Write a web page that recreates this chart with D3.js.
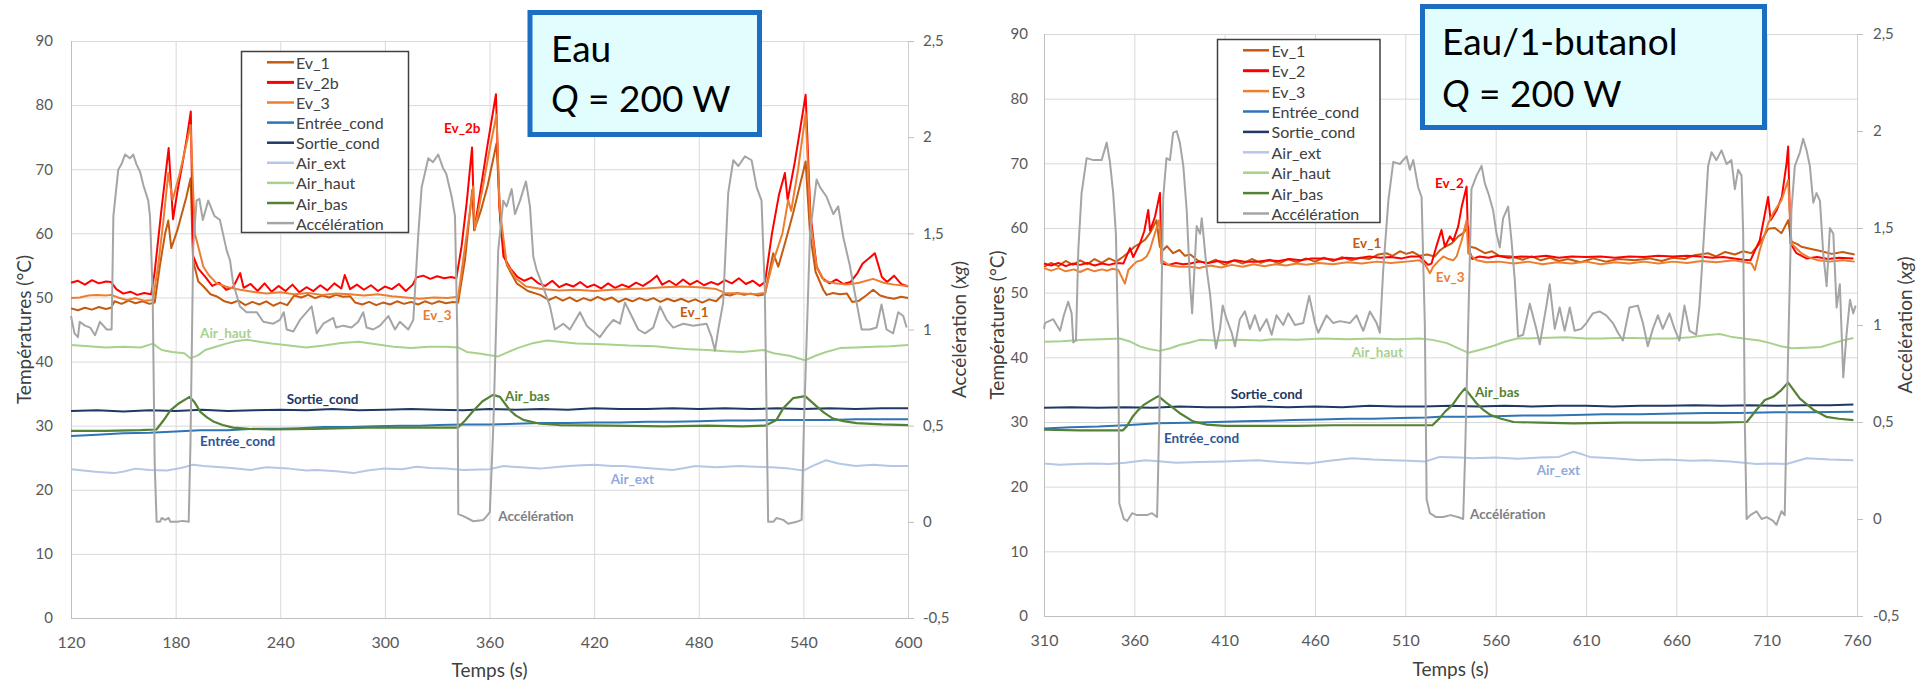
<!DOCTYPE html>
<html><head><meta charset="utf-8">
<script src="https://cdn.jsdelivr.net/npm/d3@7"></script>
<style>
body{margin:0;background:#fff}
svg{display:block}
text{font-family:Lato,'Open Sans','Noto Sans',sans-serif}
</style>
</head><body>
<svg id="chart" width="1923" height="683"></svg>
<script>
// ---------------- DATA ----------------
const namesLeft  = ["Ev_1","Ev_2b","Ev_3","Entrée_cond","Sortie_cond","Air_ext","Air_haut","Air_bas","Accélération"];
const namesRight = ["Ev_1","Ev_2","Ev_3","Entrée_cond","Sortie_cond","Air_ext","Air_haut","Air_bas","Accélération"];
const seriesColors = ["#C55A11","#FF0000","#ED7D31","#2E75B6","#203864","#B4C7E7","#A9D18E","#548235","#A5A5A5"];
const labelColors  = ["#C55A11","#FF0000","#ED7D31","#2F5597","#203864","#8FAADC","#A9D18E","#548235","#7F7F7F"];
const tempTicks = [0,10,20,30,40,50,60,70,80,90];
const accTicks  = [-0.5,0,0.5,1,1.5,2,2.5];
const xTicksLeft  = [120,180,240,300,360,420,480,540,600];
const xTicksRight = [310,360,410,460,510,560,610,660,710,760];
const boxLeft  = ["Eau","200 W"];
const boxRight = ["Eau/1-butanol","200 W"];

// Left chart (Eau) — [time s, °C] ; acceleration in xg
const L_ev1 = [[120,48.3],[124,48.0],[128,48.4],[132,48.1],[136,48.5],[140,48.2],[143,48.4],[145,49.4],[149,49.0],[153,49.5],[157,49.1],[161,49.4],[165,49.0],[168,49.2],[171,55],[174,60],[175.8,62],[177.5,57.7],[181,60.5],[184,63.5],[186,65.5],[188.6,68.6],[190,55.8],[193,52.5],[196,51.7],[200,50.5],[204,50.1],[208,49.4],[212,49.1],[216,49.5],[220,48.8],[224,49.3],[228,48.9],[232,49.4],[236,48.7],[240,49.2],[244,48.8],[248,50.3],[252,50.0],[256,50.4],[260,49.9],[264,50.3],[268,50.0],[272,50.4],[276,50.1],[280,50.2],[283,49.2],[287,48.9],[291,49.3],[295,48.8],[299,49.2],[303,48.9],[307,49.4],[311,49.0],[315,49.3],[319,48.9],[323,49.4],[327,49.0],[331,49.4],[335,49.1],[339,49.3],[342,49.2],[346,56],[350.1,66.8],[351.2,60.5],[355,63.5],[359,67.5],[364,74.0],[366.7,60],[370,55],[375.6,52.2],[382,51.0],[389,50.4],[394,49.6],[398,50.1],[402,49.5],[406,50.0],[410,49.4],[414,49.9],[418,49.5],[422,50.1],[426,49.6],[430,50.0],[434,49.3],[438,49.8],[442,49.4],[446,49.9],[450,49.5],[454,49.9],[458,49.3],[462,49.8],[466,49.4],[470,49.8],[474,49.3],[478,49.7],[482,49.2],[486,49.7],[490,49.4],[494,50.5],[498,50.3],[502,50.7],[506,50.4],[510,50.6],[514,50.3],[518,50.5],[520.5,54],[522.7,56.9],[525.6,54.8],[530,59],[534,63],[538,67.5],[541.3,71.2],[543.8,60],[547,54],[551.4,51.2],[553.3,50.4],[557,50.7],[561,50.5],[565,50.6],[568,49.3],[572,49.5],[576,50.3],[580,51.2],[584,50.3],[588,50.0],[592,49.8],[596,50.1],[600,49.9]];
const L_ev2 = [[120,52.3],[124,52.6],[128,52.0],[132,52.7],[136,52.2],[140,52.5],[143,52.4],[146,51.3],[150,50.6],[154,50.9],[158,50.4],[162,50.7],[166,50.5],[168,54],[172,64],[176,73.3],[178.5,62.2],[181,66.5],[184,71],[186.5,75],[188.7,79],[190,56.5],[193,54.5],[197,53.2],[201,51.8],[205,52.3],[209,51.2],[213,51.6],[217,53.8],[219,51.5],[223,52.1],[227,51.0],[231,52.2],[235,50.9],[239,51.8],[243,51.0],[247,52.0],[251,50.8],[255,51.6],[259,51.0],[263,51.9],[267,51.1],[271,52.2],[275,51.4],[277,53.5],[280,51.3],[284,52.0],[288,51.2],[292,51.9],[296,51.0],[300,51.7],[304,51.3],[308,52.1],[312,51.0],[316,52.0],[318,53.1],[322,53.4],[326,52.9],[330,53.3],[334,53.0],[338,53.2],[341,53.0],[344,58],[347,65],[350,73.4],[351.3,60.5],[355,67],[359,74],[363.7,81.7],[365.6,64.2],[368,56.4],[372,54.5],[376,53.2],[380,52.6],[384,53.1],[388,52.2],[392,51.8],[396,52.6],[400,51.6],[404,52.1],[408,51.7],[412,52.4],[416,51.6],[420,52.0],[424,51.4],[428,52.2],[432,51.5],[436,52.0],[440,51.6],[444,52.3],[448,51.8],[452,52.5],[456,53.4],[459,52.0],[463,52.6],[467,51.9],[471,52.8],[475,52.0],[479,52.6],[483,51.9],[487,52.4],[491,52.0],[495,52.7],[499,52.2],[503,53.0],[507,52.1],[511,52.6],[515,51.8],[518,52.4],[522,60],[526,66],[529.4,69.4],[531,65.2],[535,71],[538,76],[541.3,81.6],[544,63.1],[547.6,54.8],[551,53.0],[555,52.2],[559,52.8],[563,52.1],[567,52.4],[571,53.8],[574,55.3],[578,56.2],[581,56.9],[585,53.2],[588,52.4],[592,53.4],[596,52.1],[600,51.7]];
const L_ev3 = [[120,49.9],[125,50.0],[130,50.3],[135,50.4],[140,50.3],[143,50.4],[147,50.0],[152,49.6],[157,49.9],[162,49.5],[167,49.6],[170,55],[173,62],[175.8,69.4],[178.3,65.2],[182,69],[185,72.5],[188.6,76.9],[191,60],[195.9,54.8],[199,53.5],[203.5,52.2],[210,51.6],[217,51.2],[224,50.9],[232,50.6],[240,50.8],[248,50.5],[256,50.7],[264,50.4],[272,50.6],[280,50.5],[288,50.3],[296,50.5],[304,50.2],[312,50.0],[320,49.8],[328,50.0],[336,49.9],[342,50.1],[346,58],[350.7,67.3],[351.5,60.5],[356,67],[360,73],[364,78.5],[365.8,64],[369.8,55.3],[375,53],[381,51.7],[390,51.3],[400,51.1],[410,51.2],[420,51.0],[430,51.2],[440,51.3],[450,51.4],[460,51.6],[470,51.7],[480,51.6],[490,51.3],[495,50.7],[505,50.6],[512,50.5],[518,50.7],[522,55],[528,60],[531.3,65.2],[533,63.5],[537,70],[541.3,78.7],[544,62],[547.6,54.8],[552,52.6],[558,52.2],[565,52.0],[572,52.3],[580,52.9],[586,52.3],[592,52.0],[600,51.8]];
const L_entree = [[120,28.4],[135,28.6],[150,28.8],[165,28.9],[180,29.1],[194,29.3],[210,29.3],[225,29.5],[240,29.5],[251,29.6],[265,29.8],[280,29.8],[295,29.9],[309,30.0],[320,30.0],[331,30.1],[345,30.2],[360,30.2],[375,30.3],[389,30.4],[405,30.4],[420,30.5],[435,30.5],[450,30.6],[465,30.6],[480,30.7],[495,30.8],[510,30.8],[523,30.9],[540,30.9],[555,30.9],[570,31.0],[585,31.0],[600,31.0]];
const L_sortie = [[120,32.3],[135,32.4],[150,32.2],[165,32.4],[180,32.3],[195,32.5],[210,32.3],[225,32.4],[240,32.5],[255,32.4],[270,32.6],[285,32.4],[300,32.5],[315,32.6],[330,32.5],[345,32.4],[360,32.6],[375,32.5],[390,32.6],[405,32.5],[420,32.7],[435,32.6],[450,32.6],[465,32.7],[480,32.6],[495,32.7],[510,32.6],[525,32.7],[540,32.6],[555,32.7],[570,32.6],[585,32.7],[600,32.7]];
const L_ext = [[120,23.2],[127,23.0],[134,22.8],[140,22.7],[145,22.6],[151,22.9],[157,23.3],[165,23.1],[175,23.0],[183,23.4],[190,23.9],[196,23.7],[202,23.6],[212,23.4],[223,23.1],[232,23.5],[245,23.3],[255,23.0],[261,23.1],[272,22.9],[282,22.6],[290,23.0],[299,23.3],[310,23.2],[318,23.6],[326,23.4],[335,23.3],[345,23.1],[360,23.2],[368,23.7],[378,23.5],[389,23.3],[400,23.6],[410,23.8],[420,23.9],[430,23.7],[437,23.7],[450,23.4],[465,23.1],[472,23.4],[478,23.7],[490,23.5],[503,23.7],[512,23.6],[522,23.5],[532,23.3],[540,23.0],[546,23.8],[553,24.6],[560,24.1],[570,23.7],[580,23.9],[590,23.7],[600,23.7]];
const L_haut = [[120,42.6],[130,42.4],[140,42.2],[150,42.3],[160,42.2],[167,42.8],[172,41.8],[178,41.5],[185,41.3],[188.5,40.5],[193,41.0],[197,41.8],[203,42.3],[209,42.8],[215,43.2],[221,43.4],[228,43.1],[235,42.8],[245,42.5],[255,42.2],[265,42.5],[275,42.9],[285,43.1],[295,42.7],[305,42.3],[315,42.1],[325,42.3],[335,42.3],[342,42.2],[347,41.5],[355,41.2],[360,41.0],[365,40.8],[370,41.4],[376,42.1],[384,42.8],[393,43.3],[400,43.1],[410,42.8],[425,42.7],[440,42.5],[455,42.4],[465,42.1],[475,41.9],[485,41.8],[495,41.6],[505,41.5],[517,41.8],[523,41.3],[532,40.9],[541,40.2],[547,40.9],[553,41.5],[561,42.1],[570,42.2],[580,42.3],[590,42.4],[600,42.6]];
const L_bas = [[120,29.2],[140,29.2],[160,29.3],[169,29.4],[173,30.8],[177,32.4],[182,33.5],[188,34.5],[191,33.6],[194,32.2],[198,31.3],[202,30.6],[207,30.1],[213,29.7],[222,29.5],[235,29.4],[260,29.5],[290,29.7],[320,29.7],[342,29.7],[346,30.8],[351,32.4],[356,33.8],[362,34.8],[366,34.5],[371.7,32.4],[375,31.6],[379.4,30.9],[389,30.3],[400,30.1],[430,30.0],[460,29.9],[485,30.0],[505,29.9],[518,30.0],[524.6,30.9],[528.4,32.7],[534.2,34.3],[541,34.6],[547.6,33.0],[552,32.0],[557,31.1],[563,30.7],[570.5,30.4],[585,30.2],[600,30.1]];
const L_acc = [[120,1.07],[122,0.98],[124,0.96],[125,1.04],[128,1.02],[131,1.01],[133.8,0.97],[136.6,1.04],[140.5,1.0],[143.3,1.0],[144.3,1.59],[147.1,1.83],[149,1.86],[151,1.91],[153.8,1.89],[155.7,1.91],[157.5,1.86],[159.6,1.82],[161.5,1.75],[164.3,1.67],[165.3,1.59],[166.8,1.2],[168,0.3],[169.1,0.0],[171,0.0],[172,0.02],[174,0.01],[176,0.02],[177,0.0],[181,0.0],[184,0.005],[187.5,0.0],[188.5,0.4],[190.1,1.43],[192,1.67],[193.6,1.68],[195.6,1.57],[198.7,1.67],[202.3,1.59],[205.4,1.57],[209.3,1.41],[211.2,1.36],[213,1.24],[216.9,1.12],[220.7,1.09],[226.5,1.09],[230.3,1.04],[236,1.03],[239.8,1.05],[242,1.09],[243.7,1.0],[247.5,0.99],[251.3,1.05],[258,1.12],[260.9,0.98],[264.7,1.03],[270.4,1.06],[272,1.01],[276.1,1.02],[280.9,1.01],[284.7,1.04],[287.6,1.09],[289.5,1.01],[293.3,1.0],[297.2,1.02],[302,1.07],[305.8,1.0],[308.6,1.04],[313.4,1.0],[316.3,1.05],[319.2,1.5],[321.1,1.74],[324.9,1.89],[327.6,1.87],[330.6,1.91],[333.3,1.84],[335.2,1.81],[338.3,1.69],[340.2,1.59],[341.5,1.0],[342.1,0.04],[345,0.03],[350.7,0.003],[356.5,0.01],[358.4,0.03],[360.2,0.05],[362.2,0.5],[365,1.41],[367.9,1.67],[369.8,1.64],[372.7,1.73],[374.6,1.6],[377.5,1.67],[380.9,1.77],[383.2,1.64],[385.1,1.38],[387,1.31],[390.8,1.22],[394.7,1.12],[397.5,1.0],[402.3,1.03],[406.1,1.0],[411.9,1.09],[415.7,1.02],[423.3,0.96],[427.2,1.01],[431,1.05],[434.8,1.03],[437.7,1.14],[441.5,1.07],[445.3,1.0],[449.2,0.98],[453.9,1.01],[457.8,1.12],[461.6,1.05],[465.4,1.01],[471.1,1.03],[476.9,1.02],[484.5,1.03],[487.4,0.96],[489.3,0.89],[491.2,1.0],[494,1.14],[496.9,1.71],[499.8,1.88],[502.7,1.85],[506.5,1.9],[510.3,1.88],[513.2,1.74],[516,1.67],[517.9,1.2],[519.8,0.0],[522.7,0.0],[524.6,0.02],[528.4,0.01],[531.3,-0.01],[536.1,0.0],[539,0.01],[540.3,0.5],[543.8,1.5],[547.6,1.78],[549.5,1.74],[553.3,1.69],[557.2,1.6],[560,1.64],[562.9,1.48],[566.7,1.33],[570.5,1.14],[573.4,1.0],[578.2,1.0],[582,1.01],[584.8,1.13],[587.7,1.0],[591.5,0.98],[594.4,1.09],[597.3,1.07],[599.2,1.01]];

// Right chart (Eau/1-butanol)
const R_ev1 = [[310,54.0],[314,54.6],[318,54.1],[322,54.9],[326,54.3],[330,55.0],[334,54.4],[338,55.2],[342,54.6],[346,55.3],[350,54.8],[354,55.6],[357,56.3],[360,57.1],[363,57.6],[366,58.2],[368.6,59.2],[372.3,61.2],[374.1,57.1],[376,56.6],[378,57.2],[381.5,56.1],[385,56.6],[388,55.7],[391,55.9],[395,55.0],[400,54.5],[405,55.1],[410,54.3],[415,55.0],[420,54.5],[425,55.2],[430,54.6],[435,55.1],[440,54.5],[445,55.2],[450,54.7],[455,55.3],[460,54.8],[465,55.4],[470,54.9],[475,55.5],[480,55.0],[485,55.4],[490,55.2],[495,55.9],[499.5,56.1],[503,55.7],[507,56.4],[510.6,56.0],[514,56.3],[518,55.7],[522,55.9],[526.3,55.6],[529,56.5],[531.9,57.1],[535.6,57.6],[539.3,58.7],[542,59.2],[544.8,60.2],[545.7,57.1],[549,56.9],[554,56.1],[558,56.4],[562,55.7],[568.8,55.6],[575,55.1],[580,55.6],[585,55.0],[590,55.4],[595,54.9],[600,55.2],[607,54.7],[614,55.3],[621,54.8],[628,55.2],[637,55.0],[645,55.3],[652,54.9],[658,55.4],[664.7,55.2],[670,55.8],[677.6,56.1],[682,55.6],[687,56.3],[692.4,55.9],[697,56.4],[701.6,56.1],[706.2,57.6],[710.8,59.9],[714.5,60.0],[718.2,59.2],[721.9,61.2],[723.7,57.9],[727,57.5],[729.2,57.1],[734,56.8],[740.3,56.4],[746,56.0],[752,56.3],[758.7,55.9]];
const R_ev2 = [[310,54.5],[314,54.2],[318,54.6],[322,54.1],[326,54.5],[330,54.3],[334,54.6],[338,54.2],[342,54.5],[346,54.3],[350,54.6],[353.9,54.5],[357.6,56.9],[359.4,55.5],[363.1,57.6],[365.5,59.5],[367.7,62.8],[368.7,59.6],[371.4,61.7],[374.2,65.4],[375.1,54.5],[379,54.3],[383,54.6],[387,54.4],[391,54.5],[396,54.8],[401,54.6],[406,54.9],[411,54.7],[416,55.0],[421,54.8],[428,54.8],[434,55.0],[440,54.9],[446,55.2],[452,55.0],[458,55.3],[465,55.3],[471,55.1],[477,55.4],[483,55.3],[490,55.6],[496,55.4],[502,55.5],[508,55.3],[513,55.6],[518,55.6],[522.6,54.3],[524.5,54.5],[527,57],[530,59.7],[531.9,57.1],[534.7,58.7],[536.5,58.0],[539.3,60.3],[541.2,63.3],[543.9,66.4],[544.8,57.1],[547,55.2],[551,55.6],[556,55.4],[561,55.7],[567,55.4],[574,55.6],[581,55.5],[588,55.7],[595,55.4],[602,55.6],[610,55.5],[618,55.6],[626,55.4],[634,55.6],[642,55.5],[650,55.7],[658,55.6],[666,55.7],[673,55.6],[680,55.4],[686,55.5],[692,55.3],[697,55.1],[701,55.0],[703.5,56.5],[706.2,58.1],[710.8,64.8],[712.2,61.2],[715.6,62.8],[718.4,64.8],[721,70.0],[721.9,72.6],[723.2,57.6],[726.5,56.1],[732,55.3],[738,55.5],[744,55.2],[750,55.4],[758,55.3]];
const R_ev3 = [[310,53.8],[314,53.4],[318,53.8],[322,53.3],[326.6,53.6],[330,53.2],[334,53.7],[338,53.3],[342,53.6],[345,53.4],[348,53.7],[351.1,53.5],[354.8,51.4],[356.7,53.5],[359,54.2],[361.3,54.8],[364,55.0],[366.8,55.6],[368.6,56.6],[371.4,59.2],[373.8,61.2],[375.1,55.0],[379.7,54.2],[385,54.0],[390.7,54.0],[396,53.8],[402,54.2],[408,53.9],[414,54.3],[420,54.0],[426,54.4],[432,54.1],[438,54.4],[444,54.2],[450,54.5],[455.2,54.3],[462,54.6],[470,54.4],[478,54.7],[486,54.5],[494,54.8],[502,54.6],[510.6,54.8],[518,55.0],[521,54.3],[523.6,53.0],[525.4,54.0],[528,54.8],[531,55.6],[534,55.2],[536.5,55.0],[538.4,55.6],[541.2,58.1],[543.9,61.2],[544.8,56.1],[549.4,55.0],[555,54.7],[562,54.8],[570,54.5],[578,54.8],[586,54.4],[594,54.7],[602,54.5],[610,54.8],[618,54.4],[626,54.7],[634,54.5],[642,54.8],[650,54.5],[658,54.8],[666,54.6],[674,54.9],[682,54.7],[692,55.0],[698,54.7],[701.6,54.5],[703.5,53.5],[706.2,56.6],[710.8,60.7],[713.6,62.3],[718.2,64.3],[721.9,67.4],[723.7,57.6],[729.2,56.1],[733,55.5],[738.4,55.0],[745,54.8],[752,55.0],[758.7,54.8]];
const R_entree = [[310,29.0],[325,29.2],[340,29.3],[355,29.5],[373,29.8],[390,29.9],[405,30.0],[420,30.1],[435,30.2],[448,30.3],[463,30.4],[478,30.5],[492,30.5],[507,30.6],[522,30.7],[529,30.8],[545,30.8],[560,30.9],[575,31.0],[590,31.0],[603,31.1],[620,31.2],[640,31.2],[660,31.3],[677,31.4],[695,31.4],[715,31.5],[735,31.5],[758,31.6]];
const R_sortie = [[310,32.2],[325,32.3],[340,32.2],[355,32.3],[370,32.2],[385,32.4],[400,32.3],[415,32.3],[430,32.4],[445,32.3],[460,32.4],[475,32.3],[490,32.5],[505,32.4],[520,32.4],[535,32.5],[550,32.4],[565,32.5],[580,32.4],[595,32.5],[610,32.5],[625,32.4],[640,32.5],[655,32.5],[670,32.6],[685,32.5],[700,32.6],[715,32.5],[730,32.6],[745,32.6],[758,32.7]];
const R_ext = [[310,23.6],[318.6,23.4],[328,23.5],[337,23.6],[346,23.5],[355,23.7],[366,24.1],[375,23.9],[383,23.7],[396,23.8],[410,23.9],[420,24.0],[429,24.1],[440,23.8],[456.7,23.6],[468,24.0],[480.6,24.4],[492,24.2],[502.8,24.1],[512,24.0],[521,23.9],[529,24.6],[540,24.5],[547.6,24.4],[560,24.5],[572,24.3],[584.5,24.5],[595,24.6],[603,25.4],[608,25.0],[612,24.6],[625,24.4],[640,24.1],[655,24.2],[668,24.0],[677,24.1],[690,23.9],[704.4,23.5],[712,23.6],[721,23.5],[732,24.4],[745,24.2],[758,24.1]];
const R_haut = [[310,42.4],[320,42.5],[332,42.7],[342,42.8],[352,42.9],[358,42.4],[363,41.7],[368,41.3],[374,41.0],[380,41.4],[385,41.9],[391,42.3],[396,42.7],[405,42.6],[418,42.7],[430,42.6],[437,42.8],[450,42.7],[464,42.9],[478,42.8],[492,42.9],[505,42.8],[518,42.9],[525,42.7],[533,42.2],[540,41.3],[545,40.7],[552,41.2],[559,41.8],[565,42.4],[572,42.9],[585,43.0],[599,43.1],[610,42.9],[618,42.9],[628,43.0],[636,43.0],[648,42.9],[658,42.9],[668,43.1],[676,43.4],[684,43.6],[690,43.2],[697,42.9],[706,42.6],[712,42.2],[718,41.7],[724,41.4],[732,41.5],[740,41.6],[747,42.2],[752,42.6],[758,43.0]];
const R_bas = [[310,28.8],[330,28.7],[353.6,28.7],[356,29.4],[359,30.8],[362,31.8],[365,32.6],[369,33.3],[373.3,34.0],[378,32.9],[385,31.4],[392.5,30.1],[400,29.6],[410,29.4],[430,29.4],[450,29.4],[470,29.5],[490,29.5],[510,29.5],[525,29.5],[529,30.6],[532,31.6],[536,32.6],[540,34.2],[543,35.2],[549.4,32.9],[553,31.9],[557,31.1],[563,30.5],[570,30.0],[585,29.9],[603,29.8],[630,29.9],[658,29.9],[680,29.9],[699,30.0],[704.4,31.9],[709,33.4],[713.6,33.9],[718,34.9],[721.9,36.1],[728.4,33.6],[735.8,31.9],[743,30.8],[750,30.5],[758,30.3]];
const R_acc = [[310,0.98],[310.5,1.01],[315.1,1.03],[318.9,0.97],[321,1.05],[323.4,1.12],[325.3,1.06],[326.2,0.91],[327.7,0.92],[329,1.39],[330.8,1.68],[333.6,1.86],[337.3,1.85],[341.9,1.85],[344.7,1.94],[346.5,1.84],[348.3,1.68],[349.8,1.47],[351.1,0.9],[351.7,0.08],[354.2,0.0],[356,-0.01],[358.8,0.03],[361.5,0.02],[367,0.02],[369.8,0.03],[372.6,0.01],[373.8,0.5],[376,1.66],[377.8,1.86],[379.7,1.85],[381.5,1.99],[383.4,2.0],[385.2,1.94],[387.1,1.82],[389,1.59],[390.8,1.22],[392,1.06],[394.5,1.51],[396.4,1.47],[397.3,1.55],[398.2,1.47],[400,1.29],[401.9,1.16],[403.7,0.98],[405.2,0.88],[407.4,0.98],[408.9,1.1],[411.1,1.03],[413.9,0.96],[415.7,0.89],[418.4,1.03],[421.2,1.07],[424,0.98],[426.7,1.05],[429.5,0.97],[433.2,1.03],[436,0.95],[438.7,1.05],[442.4,1.0],[445.2,1.06],[448.9,1.0],[453.5,1.01],[456.8,1.15],[460,1.01],[461.8,0.96],[466.4,1.05],[470.1,1.01],[473.8,1.02],[479.3,1.01],[483,1.05],[486.7,0.97],[490.4,1.07],[494.1,1.01],[495.9,0.96],[497.8,1.29],[500.6,1.64],[503.3,1.84],[507,1.83],[510.7,1.87],[512.5,1.8],[514.4,1.85],[517.1,1.71],[519,1.66],[520.8,1.0],[521.8,0.1],[523.6,0.03],[527,0.01],[531,0.01],[535,0.02],[539,0.01],[542,0.0],[543,0.3],[544.8,1.0],[546.6,1.7],[549.4,1.77],[552.2,1.82],[554,1.73],[555.9,1.68],[558.6,1.59],[560.5,1.47],[562.3,1.4],[564.1,1.55],[566.9,1.61],[568.7,1.44],[570.6,1.23],[572.4,0.94],[575.2,0.95],[578.9,1.11],[582.5,0.98],[584.4,0.9],[588.1,1.1],[589.9,1.21],[592.7,0.98],[595.4,1.09],[598.2,0.97],[601,1.09],[603.7,0.97],[607.4,0.98],[610.2,1.01],[613.8,1.06],[617.5,1.07],[621.2,1.05],[624.9,1.01],[627.7,0.96],[630.4,0.92],[634.1,1.09],[638.7,1.1],[641.5,1.01],[644.2,0.89],[647,0.98],[649.8,1.05],[652.5,0.98],[656.2,1.06],[659,0.98],[661.7,0.92],[664.5,1.1],[667.3,0.97],[671,0.95],[672.8,1.1],[674.7,1.37],[677.6,1.82],[679.5,1.89],[682.2,1.85],[685,1.9],[687.8,1.83],[690.5,1.85],[692.4,1.7],[694.2,1.8],[696.1,1.77],[697,1.47],[697.9,0.5],[698.9,0.0],[701,0.02],[704.4,0.04],[707.2,0.0],[710,0.01],[713.6,-0.01],[715.4,-0.03],[718.2,0.04],[720,0.02],[721,0.5],[723.7,1.59],[725.6,1.82],[728.4,1.89],[730.2,1.96],[732.1,1.9],[733.9,1.82],[735.8,1.63],[737.6,1.68],[739.5,1.64],[741.3,1.37],[743.2,1.2],[745,1.5],[746.9,1.47],[748.7,1.09],[750.5,1.21],[752.4,0.73],[754.2,0.95],[756.1,1.13],[757.9,1.06],[759.2,1.1]];

// in-plot labels: [series index, time, temperature]
const L_labels = [[1,333.9,76.4],[2,321.7,47.3],[0,469.2,47.8],[6,194,44.5],[4,243.7,34.2],[3,194,27.6],[7,368.9,34.7],[5,429.5,21.7],[8,365,15.9]];
const R_labels = [[0,480.8,57.7],[1,526.4,66.9],[2,526.9,52.5],[6,480.3,40.9],[4,413.3,34.3],[3,376.4,27.6],[7,548.5,34.7],[5,582.7,22.6],[8,545.8,15.8]];

// ---------------- DRAW ----------------
const svg = d3.select("#chart");
const FONT = "Lato,'Open Sans','Noto Sans',sans-serif";
const fmtAcc = d => String(d).replace(".", ",");

function panel(p) {
  const x = d3.scaleLinear().domain([p.xTicks[0], p.xTicks[p.xTicks.length-1]]).range([p.left, p.right]);
  const y = d3.scaleLinear().domain([0, 90]).range([p.bottom, p.top]);
  const y2 = d3.scaleLinear().domain([-0.5, 2.5]).range([p.bottom, p.top]);
  const g = svg.append("g");

  // grid
  g.append("g").selectAll("line").data(tempTicks).join("line")
    .attr("x1", p.left).attr("x2", p.right)
    .attr("y1", d => y(d) + 0.5).attr("y2", d => y(d) + 0.5)
    .attr("stroke", "#d9d9d9").attr("stroke-width", 1);
  g.append("g").selectAll("line").data(p.xTicks).join("line")
    .attr("x1", d => x(d) + 0.5).attr("x2", d => x(d) + 0.5)
    .attr("y1", p.top).attr("y2", p.bottom)
    .attr("stroke", "#d9d9d9").attr("stroke-width", 1);
  // axis lines
  g.append("line").attr("x1", p.left + 0.5).attr("x2", p.left + 0.5).attr("y1", p.top).attr("y2", p.bottom + 0.5)
    .attr("stroke", "#bfbfbf");
  g.append("line").attr("x1", p.left).attr("x2", p.right + 0.5).attr("y1", p.bottom + 0.5).attr("y2", p.bottom + 0.5)
    .attr("stroke", "#bfbfbf");
  g.append("line").attr("x1", p.right + 0.5).attr("x2", p.right + 0.5).attr("y1", p.top).attr("y2", p.bottom + 0.5)
    .attr("stroke", "#d0d0d0");

  // axes
  const axB = g.append("g").attr("transform", `translate(0,${p.bottom})`)
    .call(d3.axisBottom(x).tickValues(p.xTicks).tickSize(0).tickPadding(19));
  const axL = g.append("g").attr("transform", `translate(${p.left},0)`)
    .call(d3.axisLeft(y).tickValues(tempTicks).tickSize(0).tickPadding(p.left - p.yLabelRight));
  const axR = g.append("g").attr("transform", `translate(${p.right},0)`)
    .call(d3.axisRight(y2).tickValues(accTicks).tickFormat(fmtAcc).tickSize(6).tickPadding(p.rLabelLeft - p.right - 6));
  [axB, axL, axR].forEach(a => {
    a.select(".domain").remove();
    a.attr("font-family", FONT).attr("font-size", 15);
    a.selectAll("text").attr("fill", "#595959");
    a.selectAll("line").attr("stroke", "#bfbfbf");
  });
  axB.attr("font-size", 16);

  // axis titles
  g.append("text").attr("transform", `translate(${p.yTitleX},${(p.top + p.bottom) / 2}) rotate(-90)`)
    .attr("text-anchor", "middle").attr("dominant-baseline", "central")
    .attr("font-size", 19).attr("fill", "#404040").text("Températures (°C)");
  const t2 = g.append("text").attr("transform", `translate(${p.y2TitleX},${(p.top + p.bottom) / 2}) rotate(-90)`)
    .attr("text-anchor", "middle").attr("dominant-baseline", "central")
    .attr("font-size", 19).attr("fill", "#404040");
  t2.append("tspan").text("Accélération (");
  t2.append("tspan").attr("font-style", "italic").text("xg");
  t2.append("tspan").text(")");
  g.append("text").attr("x", (p.left + p.right) / 2).attr("y", p.xTitleY)
    .attr("text-anchor", "middle").attr("font-size", 19).attr("fill", "#404040").text("Temps (s)");

  // series
  const lineT = d3.line().x(d => x(d[0])).y(d => y(d[1]));
  const lineA = d3.line().x(d => x(d[0])).y(d => y2(d[1]));
  const widths = [2, 2, 2, 2, 2, 2, 2, 2.2, 2];
  p.series.forEach((s, i) => {
    g.append("path").datum(s)
      .attr("d", i === 8 ? lineA : lineT)
      .attr("fill", "none").attr("stroke", seriesColors[i])
      .attr("stroke-width", widths[i]).attr("stroke-linejoin", "round");
  });

  // in-plot labels
  g.append("g").selectAll("text").data(p.labels).join("text")
    .attr("x", d => x(d[1])).attr("y", d => y(d[2]))
    .attr("dominant-baseline", "central")
    .attr("font-size", 13.5).attr("font-weight", "bold")
    .attr("fill", d => labelColors[d[0]])
    .text(d => p.names[d[0]]);

  // legend
  const lg = g.append("g");
  lg.append("rect").attr("x", p.leg.x).attr("y", p.leg.y).attr("width", p.leg.w).attr("height", p.leg.h)
    .attr("fill", "#fff").attr("stroke", "#404040").attr("stroke-width", 1.5);
  const rows = lg.selectAll("g").data(p.names).join("g")
    .attr("transform", (d, i) => `translate(0,${p.leg.row0 + i * p.leg.step})`);
  rows.append("line").attr("x1", p.leg.lx1).attr("x2", p.leg.lx2)
    .attr("stroke", (d, i) => seriesColors[i]).attr("stroke-width", (d, i) => i === 1 ? 3 : 2.5);
  rows.append("text").attr("x", p.leg.tx).attr("dominant-baseline", "central")
    .attr("font-size", 16).attr("fill", "#404040").text(d => d);

  // text box
  const b = p.box;
  g.append("rect").attr("x", b.x).attr("y", b.y).attr("width", b.w).attr("height", b.h)
    .attr("fill", "#e1fdfd").attr("stroke", "#1b6ec2").attr("stroke-width", 5);
  g.append("text").attr("x", b.tx).attr("y", b.l1).attr("font-size", 37).attr("fill", "#000").text(p.boxText[0]);
  const q = g.append("text").attr("x", b.tx).attr("y", b.l2).attr("font-size", 37).attr("fill", "#000");
  q.append("tspan").attr("font-style", "italic").text("Q");
  q.append("tspan").text(" = " + p.boxText[1]);
}

panel({
  xTicks: xTicksLeft, left: 71, right: 908, top: 41, bottom: 618,
  yLabelRight: 53, rLabelLeft: 923, yTitleX: 23, y2TitleX: 958, xTitleY: 677,
  names: namesLeft,
  series: [L_ev1, L_ev2, L_ev3, L_entree, L_sortie, L_ext, L_haut, L_bas, L_acc],
  labels: L_labels,
  leg: {x: 241.5, y: 51.5, w: 167, h: 181, row0: 62.3, step: 20.1, lx1: 267, lx2: 294, tx: 296},
  box: {x: 530, y: 12.5, w: 229.5, h: 122, tx: 551, l1: 62, l2: 112},
  boxText: boxLeft
});
panel({
  xTicks: xTicksRight, left: 1044, right: 1857, top: 34, bottom: 616,
  yLabelRight: 1028, rLabelLeft: 1873, yTitleX: 996, y2TitleX: 1904, xTitleY: 676,
  names: namesRight,
  series: [R_ev1, R_ev2, R_ev3, R_entree, R_sortie, R_ext, R_haut, R_bas, R_acc],
  labels: R_labels,
  leg: {x: 1217.5, y: 39.5, w: 162.5, h: 183, row0: 50.3, step: 20.4, lx1: 1243, lx2: 1269, tx: 1271.5},
  box: {x: 1422.5, y: 6.5, w: 342, h: 121, tx: 1442, l1: 55, l2: 107},
  boxText: boxRight
});
</script>
</body></html>
